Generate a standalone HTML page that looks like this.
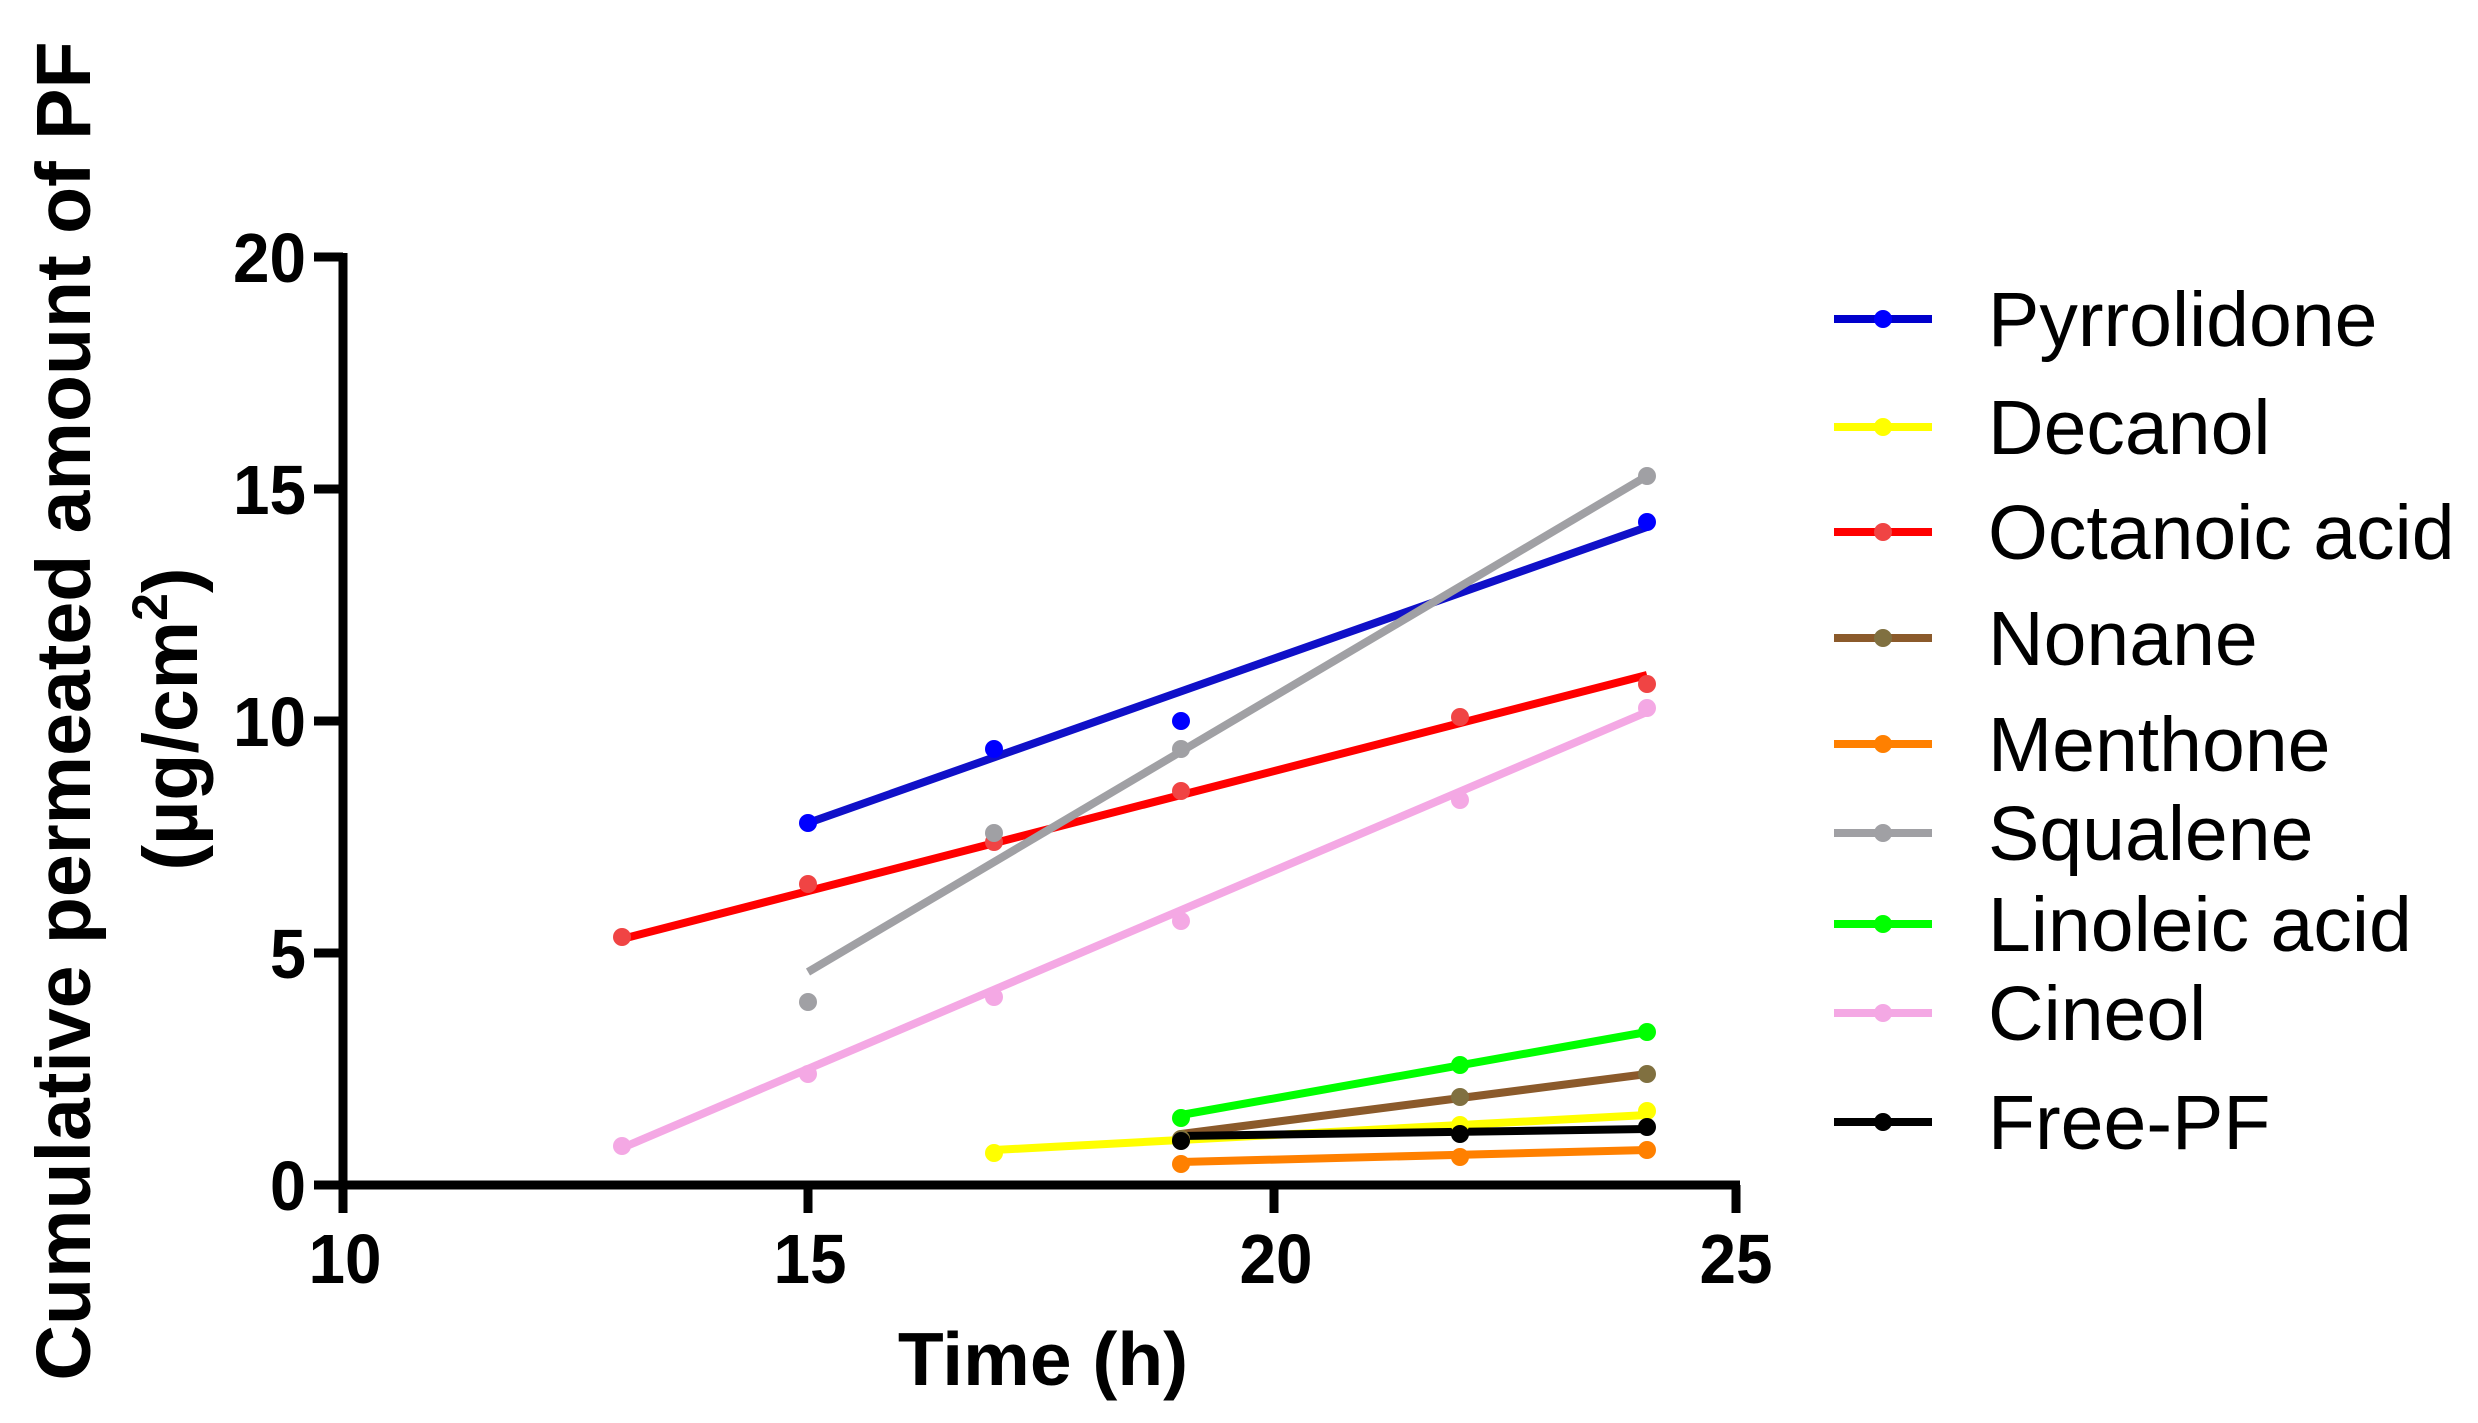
<!DOCTYPE html>
<html><head><meta charset="utf-8"><style>
html,body{margin:0;padding:0;background:#fff;}
svg{display:block;}
text{font-family:"Liberation Sans",Arial,sans-serif;font-weight:bold;fill:#000;}
.leg{font-weight:normal;font-size:77px;}
</style></head><body>
<svg width="2478" height="1423" viewBox="0 0 2478 1423" xmlns="http://www.w3.org/2000/svg">
<g stroke="#000" stroke-width="9" fill="none">
<line x1="343" y1="253" x2="343" y2="1189"/>
<line x1="339" y1="1185" x2="1740" y2="1185"/>
<line x1="314" y1="257" x2="343" y2="257"/>
<line x1="314" y1="489" x2="343" y2="489"/>
<line x1="314" y1="721" x2="343" y2="721"/>
<line x1="314" y1="953" x2="343" y2="953"/>
<line x1="314" y1="1185" x2="343" y2="1185"/>
<line x1="343" y1="1185" x2="343" y2="1213"/>
<line x1="808" y1="1185" x2="808" y2="1213"/>
<line x1="1274" y1="1185" x2="1274" y2="1213"/>
<line x1="1736" y1="1185" x2="1736" y2="1213"/>
</g>
<g font-size="70" text-anchor="end">
<text x="306" y="282" textLength="73" lengthAdjust="spacingAndGlyphs">20</text>
<text x="306" y="514" textLength="73" lengthAdjust="spacingAndGlyphs">15</text>
<text x="306" y="746" textLength="73" lengthAdjust="spacingAndGlyphs">10</text>
<text x="306" y="978" textLength="36" lengthAdjust="spacingAndGlyphs">5</text>
<text x="306" y="1210" textLength="36" lengthAdjust="spacingAndGlyphs">0</text>
</g>
<g font-size="70" text-anchor="middle">
<text x="345" y="1283" textLength="73" lengthAdjust="spacingAndGlyphs">10</text>
<text x="810" y="1283" textLength="73" lengthAdjust="spacingAndGlyphs">15</text>
<text x="1276" y="1283" textLength="73" lengthAdjust="spacingAndGlyphs">20</text>
<text x="1736" y="1283" textLength="73" lengthAdjust="spacingAndGlyphs">25</text>
</g>
<text x="1043" y="1385" font-size="75" text-anchor="middle">Time (h)</text>
<text transform="translate(90,711) rotate(-90)" font-size="77" text-anchor="middle">Cumulative permeated amount of PF</text>
<text transform="translate(197,719) rotate(-90)" font-size="77" text-anchor="middle">(µg/cm<tspan font-size="50" dy="-30">2</tspan><tspan dy="30">)</tspan></text>

<g stroke-width="8" fill="none" stroke-linecap="butt">
<line x1="808" y1="823" x2="1647" y2="527" stroke="#1010c8"/>
<line x1="994" y1="1150" x2="1647" y2="1115" stroke="#ffff00"/>
<line x1="622" y1="939" x2="1647" y2="675" stroke="#ff0000"/>
<line x1="1181" y1="1134" x2="1647" y2="1074" stroke="#8b5a2b"/>
<line x1="1181" y1="1162" x2="1647" y2="1150" stroke="#ff8000"/>
<line x1="808" y1="972" x2="1647" y2="476" stroke="#a0a0a4"/>
<line x1="1181" y1="1115" x2="1647" y2="1032" stroke="#00ff00"/>
<line x1="622" y1="1148" x2="1647" y2="712" stroke="#f4a8e4"/>
<line x1="1181" y1="1136" x2="1647" y2="1129" stroke="#000"/>
</g>
<g fill="#0000ff"><circle cx="808" cy="823" r="9"/><circle cx="994" cy="749" r="9"/><circle cx="1181" cy="721" r="9"/><circle cx="1647" cy="522" r="9"/></g>
<g fill="#ffff00"><circle cx="994" cy="1153" r="9"/><circle cx="1181" cy="1139" r="9"/><circle cx="1460" cy="1125" r="9"/><circle cx="1647" cy="1111" r="9"/></g>
<g fill="#f04444"><circle cx="622" cy="937" r="9"/><circle cx="808" cy="884" r="9"/><circle cx="994" cy="842" r="9"/><circle cx="1181" cy="791" r="9"/><circle cx="1460" cy="717" r="9"/><circle cx="1647" cy="684" r="9"/></g>
<g fill="#807040"><circle cx="1181" cy="1139" r="9"/><circle cx="1460" cy="1097" r="9"/><circle cx="1647" cy="1074" r="9"/></g>
<g fill="#ff8000"><circle cx="1181" cy="1164" r="9"/><circle cx="1460" cy="1157" r="9"/><circle cx="1647" cy="1150" r="9"/></g>
<g fill="#a0a0a4"><circle cx="808" cy="1002" r="9"/><circle cx="994" cy="833" r="9"/><circle cx="1181" cy="749" r="9"/><circle cx="1647" cy="476" r="9"/></g>
<g fill="#00ff00"><circle cx="1181" cy="1118" r="9"/><circle cx="1460" cy="1065" r="9"/><circle cx="1647" cy="1032" r="9"/></g>
<g fill="#f4a8e4"><circle cx="622" cy="1146" r="9"/><circle cx="808" cy="1074" r="9"/><circle cx="994" cy="997" r="9"/><circle cx="1181" cy="921" r="9"/><circle cx="1460" cy="800" r="9"/><circle cx="1647" cy="708" r="9"/></g>
<g fill="#000"><circle cx="1181" cy="1141" r="9"/><circle cx="1460" cy="1134" r="9"/><circle cx="1647" cy="1127" r="9"/></g>

<g stroke-width="8">
<line x1="1834" y1="319" x2="1932" y2="319" stroke="#0000cc"/>
<line x1="1834" y1="427" x2="1932" y2="427" stroke="#ffff00"/>
<line x1="1834" y1="532" x2="1932" y2="532" stroke="#ff0000"/>
<line x1="1834" y1="638" x2="1932" y2="638" stroke="#8b5a2b"/>
<line x1="1834" y1="744" x2="1932" y2="744" stroke="#ff8000"/>
<line x1="1834" y1="833" x2="1932" y2="833" stroke="#a0a0a4"/>
<line x1="1834" y1="924" x2="1932" y2="924" stroke="#00ff00"/>
<line x1="1834" y1="1013" x2="1932" y2="1013" stroke="#f4a8e4"/>
<line x1="1834" y1="1122" x2="1932" y2="1122" stroke="#000"/>
</g>
<circle cx="1883" cy="319" r="9" fill="#0000ff"/>
<circle cx="1883" cy="427" r="9" fill="#ffff00"/>
<circle cx="1883" cy="532" r="9" fill="#f04444"/>
<circle cx="1883" cy="638" r="9" fill="#807040"/>
<circle cx="1883" cy="744" r="9" fill="#ff8000"/>
<circle cx="1883" cy="833" r="9" fill="#a0a0a4"/>
<circle cx="1883" cy="924" r="9" fill="#00ff00"/>
<circle cx="1883" cy="1013" r="9" fill="#f4a8e4"/>
<circle cx="1883" cy="1122" r="9" fill="#000"/>
<text class="leg" x="1988" y="346">Pyrrolidone</text>
<text class="leg" x="1988" y="454">Decanol</text>
<text class="leg" x="1988" y="559">Octanoic acid</text>
<text class="leg" x="1988" y="665">Nonane</text>
<text class="leg" x="1988" y="771">Menthone</text>
<text class="leg" x="1988" y="860">Squalene</text>
<text class="leg" x="1988" y="951">Linoleic acid</text>
<text class="leg" x="1988" y="1040">Cineol</text>
<text class="leg" x="1988" y="1149">Free-PF</text>
</svg>
</body></html>
